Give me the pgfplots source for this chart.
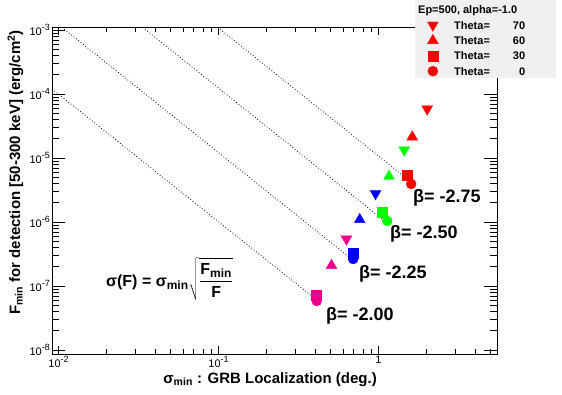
\documentclass[border=0pt]{standalone}
\usepackage{pgfplots}
\pgfplotsset{compat=1.18}
\usepackage{fontspec}
\setmainfont{Liberation Sans}
\definecolor{legbg}{RGB}{240,240,240}
\newcommand{\lgd}[1]{\makebox[102pt][l]{\makebox[71pt][l]{Theta=\hfill#1}}}
\newcommand{\tp}[1]{10\raisebox{0.42em}{\fontsize{9}{10}\selectfont#1}}
\begin{document}
\begin{tikzpicture}[x=1pt,y=1pt]
\useasboundingbox (0,0) rectangle (562,394);
\begin{axis}[
  at={(52pt,40pt)}, anchor=south west,
  scale only axis, width=445pt, height=326.7pt,
  xmode=log, ymode=log,
  xmin=0.0091, xmax=5.5, ymin=8.66e-9, ymax=1.1e-3,
  xtick={0.01,0.1,1},
  xticklabels={\tp{-2},\tp{-1},1},
  ytick={1e-8,1e-7,1e-6,1e-5,1e-4,1e-3},
  yticklabels={\tp{-8},\tp{-7},\tp{-6},\tp{-5},\tp{-4},\tp{-3}},
  minor xtick={0.02,0.03,0.04,0.05,0.06,0.07,0.08,0.09,0.2,0.3,0.4,0.5,0.6,0.7,0.8,0.9,2,3,4,5},
  minor ytick={2e-8,3e-8,4e-8,5e-8,6e-8,7e-8,8e-8,9e-8,
               2e-7,3e-7,4e-7,5e-7,6e-7,7e-7,8e-7,9e-7,
               2e-6,3e-6,4e-6,5e-6,6e-6,7e-6,8e-6,9e-6,
               2e-5,3e-5,4e-5,5e-5,6e-5,7e-5,8e-5,9e-5,
               2e-4,3e-4,4e-4,5e-4,6e-4,7e-4,8e-4,9e-4},
  tick align=inside,
  major tick length=13pt, minor tick length=7pt,
  xtick style={/pgfplots/major tick length=8pt,/pgfplots/minor tick length=5pt},
  every tick/.style={black, line width=0.7pt},
  axis line style={line width=0.8pt},
  ticklabel style={font=\fontsize{11}{13}\selectfont},
  yticklabel style={inner sep=2pt},
  xticklabel style={inner sep=2pt},
  legend style={at={(0.8157,1.0836)}, anchor=north west, fill=legbg, draw=none,
    inner xsep=0pt, inner ysep=0.35pt, row sep=0pt, column sep=0pt,
    font=\bfseries\fontsize{11}{13}\selectfont,
    nodes={inner sep=0pt, text height=13.3pt, text depth=2pt}},
  legend cell align=left,
  legend image code/.code={\path[draw=none,fill=none] (0pt,0pt) -- (39pt,0pt); \draw[#1] plot coordinates {(17.7pt,-1.6pt)};},
  dn/.style={only marks, forget plot, mark=triangle*, mark size=6.2pt, mark options={rotate=180}},
  up/.style={only marks, forget plot, mark=triangle*, mark size=6.2pt},
  sq/.style={only marks, forget plot, mark=square*, mark size=5pt},
  ci/.style={only marks, forget plot, mark=*, mark size=5pt},
  dl/.style={forget plot, black, line width=0.8pt, dash pattern=on 0.8pt off 2.2pt},
]
% beta = -2.00 (magenta)
\addplot[dn, magenta] coordinates {(0.630,5.42e-7)};
\addplot[up, magenta] coordinates {(0.508,2.09e-7)};
\addplot[sq, magenta] coordinates {(0.408,7.23e-8)};
\addplot[ci, magenta] coordinates {(0.411,5.83e-8)};
% beta = -2.25 (blue)
\addplot[dn, blue] coordinates {(0.958,2.77e-6)};
\addplot[up, blue] coordinates {(0.763,1.09e-6)};
\addplot[sq, blue] coordinates {(0.690,3.28e-7)};
\addplot[ci, blue] coordinates {(0.694,2.64e-7)};
% beta = -2.50 (green)
\addplot[dn, green] coordinates {(1.448,1.33e-5)};
\addplot[up, green] coordinates {(1.163,5.2e-6)};
\addplot[sq, green] coordinates {(1.055,1.41e-6)};
\addplot[ci, green] coordinates {(1.133,1.04e-6)};
% beta = -2.75 (red)
\addplot[dn, red] coordinates {(2.014,5.83e-5)};
\addplot[up, red] coordinates {(1.625,2.13e-5)};
\addplot[sq, red] coordinates {(1.50,5.42e-6)};
\addplot[ci, red] coordinates {(1.60,3.93e-6)};
% sigma(F) lines
\addplot[dl] coordinates {(0.0091,1.2e-4) (0.402,6.3e-8)};
\addplot[dl] coordinates {(0.0105,1.1e-3) (0.682,2.61e-7)};
\addplot[dl] coordinates {(0.0335,1.1e-3) (1.074,1.07e-6)};
\addplot[dl] coordinates {(0.0987,1.1e-3) (1.518,4.65e-6)};
% legend
\addlegendimage{empty legend}
\addlegendentry{\hspace*{-36pt}Ep=500, alpha=-1.0}
\addlegendimage{only marks, red, mark=triangle*, mark size=6.2pt, mark options={rotate=180}}
\addlegendentry{\lgd{70}}
\addlegendimage{only marks, red, mark=triangle*, mark size=6.2pt}
\addlegendentry{\lgd{60}}
\addlegendimage{only marks, red, mark=square*, mark size=5pt}
\addlegendentry{\lgd{30}}
\addlegendimage{only marks, red, mark=*, mark size=5pt}
\addlegendentry{\lgd{0}}
\end{axis}
\node[rotate=90, anchor=base east, inner sep=0pt, font=\bfseries\fontsize{15}{17}\selectfont] at (20,364)
  {F\textsubscript{min} for detection [50-300 keV] (erg/cm\textsuperscript{2})};
\node[anchor=base east, inner sep=0pt, font=\bfseries\fontsize{15}{17}\selectfont] at (377,11)
  {σ\textsubscript{min} : GRB Localization (deg.)};
\begin{scope}[every node/.style={anchor=base west, inner sep=0pt, font=\bfseries\fontsize{18}{20}\selectfont}]
\node at (413,191) {β= -2.75};
\node at (390,156) {β= -2.50};
\node at (359,116) {β= -2.25};
\node at (326,74) {β= -2.00};
\end{scope}
\node[anchor=base west, inner sep=0pt, font=\bfseries\fontsize{16}{18}\selectfont] at (106,108)
  {$\displaystyle\mbox{σ(F) = σ}_{\mbox{\fontsize{12}{13}\selectfont\bfseries min}}\sqrt{\frac{\mbox{F}_{\mbox{\fontsize{12}{13}\selectfont\bfseries min}}}{\mbox{F}}}$};
\end{tikzpicture}
\end{document}
